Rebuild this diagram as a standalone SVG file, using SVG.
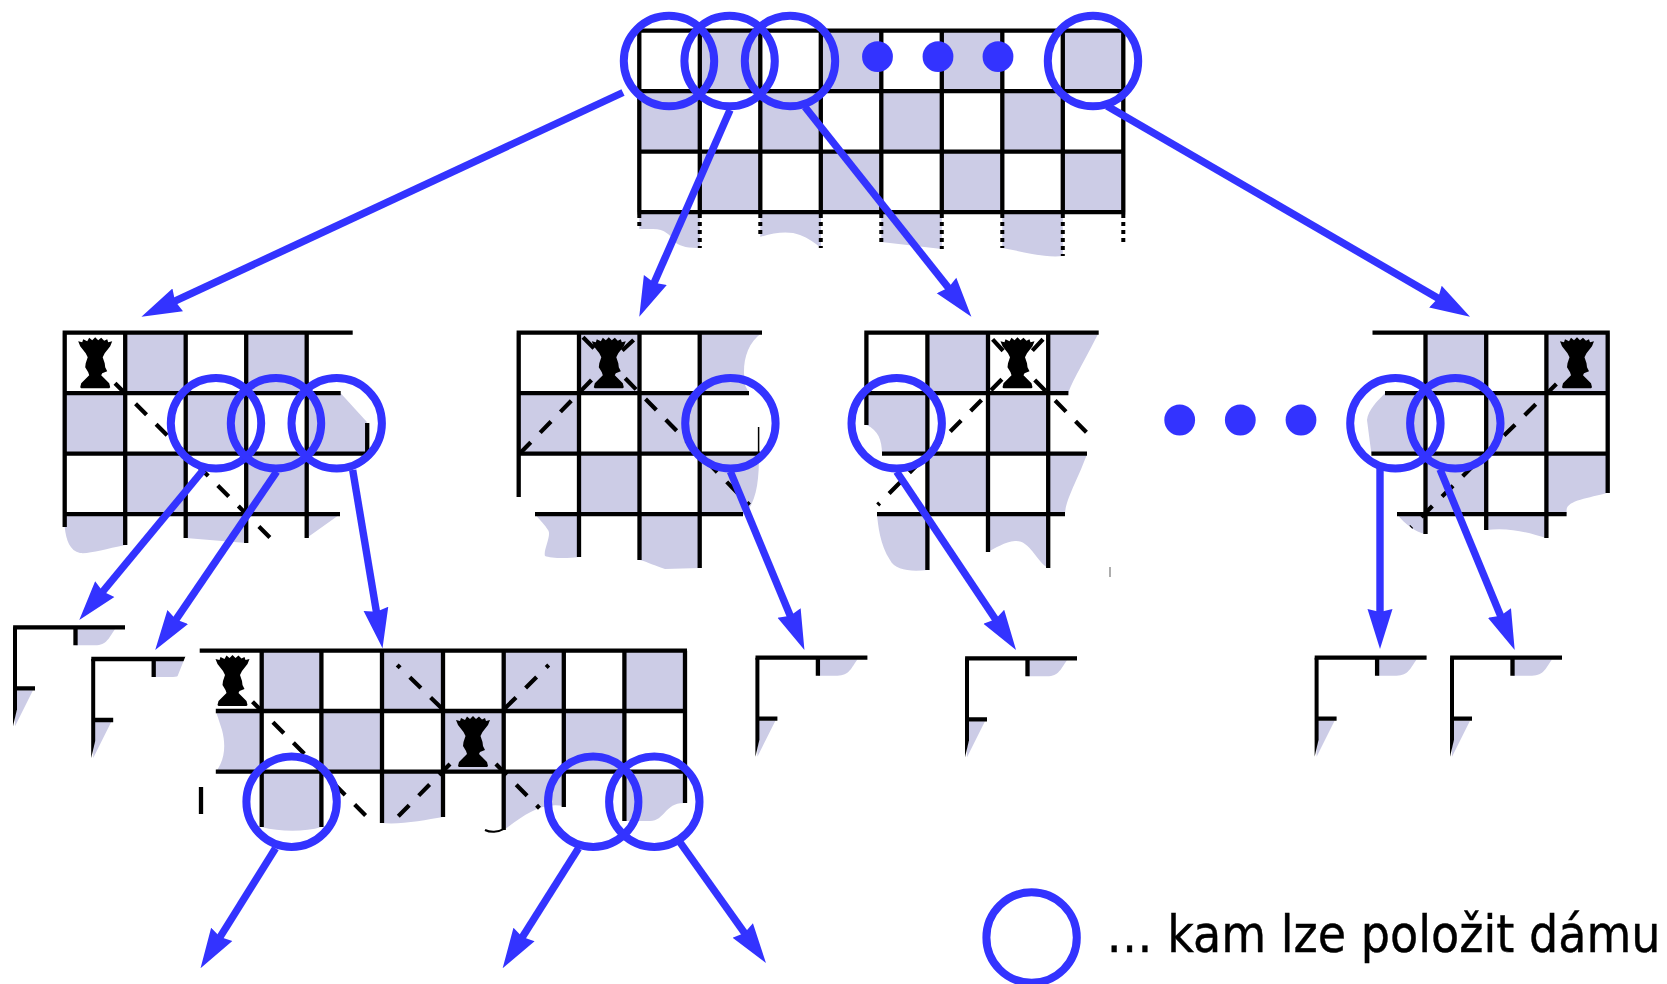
<svg xmlns="http://www.w3.org/2000/svg" width="1667" height="984" viewBox="0 0 1667 984">
<style>
.sh{fill:#ccccE6;stroke:none}
.gr{fill:none;stroke:#000;stroke-width:4.3}
.dot{fill:none;stroke:#000;stroke-width:4;stroke-dasharray:4 4}
.da{fill:none;stroke:#000;stroke-width:4.2;stroke-dasharray:15.5 13.5}
.ring{fill:none;stroke:#3333ff;stroke-width:8}
.bd{fill:#3333ff}
.ar{fill:none;stroke:#3333ff;stroke-width:7.4;marker-end:url(#head)}
.lb{font-family:"DejaVu Sans Condensed","DejaVu Sans",sans-serif;font-stretch:condensed;font-size:52px;fill:#000;stroke:#000;stroke-width:.4}
</style>
<defs>
<marker id="head" markerUnits="userSpaceOnUse" markerWidth="44" markerHeight="30" refX="18" refY="15" orient="auto"><path d="M40 15L0 2.5L3 15L0 27.5Z" fill="#3333ff"/></marker>
<path id="q" d="M-17 4L-13 5L-12 2L-8 4L-6 .5L-3 3L0 0L3 3L6 .5L9 3.5L12 2L13 5L17 4L15 9L9.5 16L7.5 20L9.5 26L10 30L12 34L7 36L6 38L9 41L14 46L15 50L14 51L-14 51L-15 50L-14 46L-9 41L-6 38L-7 35L-10 30L-9.5 26L-7.5 20L-9.5 16L-15 9Z" fill="#000"/>
<g id="stub">
<path class="sh" d="M60.5 1.9H100C94 10 92 18 80 18H60.500ZM0 63H18L0 99Z"/>
<path class="gr" d="M-1.9 0H110M60.5 0V18M0 61H20"/>
<path d="M-2 0H2V82L-2 99Z" fill="#000"/>
</g>
<clipPath id="cl2"><path d="M80 640H192L176 680V770H80Z"/></clipPath>
</defs>
<rect width="1667" height="984" fill="#fff"/>
<g id="board-root">
<path class="sh" d="M699.8 30.7h60.5v60.5h-60.5zM820.8 30.7h60.5v60.5h-60.5zM941.8 30.7h60.5v60.5h-60.5zM1062.8 30.7h60.5v60.5h-60.5zM639.3 91.2h60.5v60.5h-60.5zM760.3 91.2h60.5v60.5h-60.5zM881.3 91.2h60.5v60.5h-60.5zM1002.3 91.2h60.5v60.5h-60.5zM699.8 151.7h60.5v60.5h-60.5zM820.8 151.7h60.5v60.5h-60.5zM941.8 151.7h60.5v60.5h-60.5zM1062.8 151.7h60.5v60.5h-60.5zM639.3 212.2V229H653C665 229 670 235 675 242C680 247 690 248 699.8 248V212.2ZM760.3 212.2V237C775 232 790 231 800 235C808 238 815 243 821 248V212.2ZM881.3 212.2V242L941.8 249V212.2ZM1002.3 212.2V248C1025 252 1045 258 1062.8 256V212.2Z"/>
<path class="gr" d="M637.2 30.7H1125.4M637.2 91.2H1125.4M637.2 151.7H1125.4M637.2 212.2H1125.4M639.3 30.7V212.2M699.8 30.7V212.2M760.3 30.7V212.2M820.8 30.7V212.2M881.3 30.7V212.2M941.8 30.7V212.2M1002.3 30.7V212.2M1062.8 30.7V212.2M1123.3 30.7V212.2"/>
<path class="dot" d="M639.3 214V230M699.8 214V248M760.3 214V237M820.8 214V248M881.3 214V242M941.8 214V249M1002.3 214V248M1062.8 214V256M1123.3 214V242"/>
<circle class="bd" cx="877.5" cy="56.7" r="15.4"/><circle class="bd" cx="938" cy="56.7" r="15.4"/><circle class="bd" cx="998" cy="56.7" r="15.4"/>
<circle class="ring" cx="669" cy="61" r="45.2"/><circle class="ring" cx="729.6" cy="61" r="45.2"/><circle class="ring" cx="790" cy="61" r="45.2"/><circle class="ring" cx="1093" cy="61" r="45.2"/>
</g>
<g id="board-a">
<path class="sh" d="M125.2 332.7h60.5v60.5h-60.5zM246.2 332.7h60.5v60.5h-60.5zM64.7 393.2h60.5v60.5h-60.5zM185.7 393.2h60.5v60.5h-60.5zM306.7 393.2H340.7L366.7 421.7V453.7H306.7ZM125.2 453.7h60.5v60.5h-60.5zM246.2 453.7h60.5v60.5h-60.5zM64.7 514.2H125.2V545C105 549 90 554 80 553C70 551 66 540 64.7 527ZM185.7 514.2H246.2V543L185.7 538ZM306.7 514.2H340L306.7 538Z"/>
<path class="gr" d="M62.6 332.7H352.7M62.6 393.2H340.7M62.6 453.7H366.7M62.6 514.2H340M64.7 332.7V527M125.2 332.7V545M185.7 332.7V538M246.2 332.7V543M306.7 332.7V538M367.2 423V453.7"/>
<path class="da" d="M115 383.3L271.7 539.3"/>
<use href="#q" x="95.2" y="337.3"/>
<circle class="ring" cx="216" cy="423.3" r="45.2"/><circle class="ring" cx="276" cy="423.3" r="45.2"/><circle class="ring" cx="336.7" cy="423.3" r="45.2"/>
</g>
<g id="board-b">
<path class="sh" d="M579 332.7h60.5v60.5H579zM699.7 332.7H762C745 345 742 365 745 385L749 393.2H699.7ZM518.7 393.2H579v60.5h-60.3zM639.5 393.2h60.2v60.5h-60.2zM579 453.7h60.5v60.5H579zM699.7 453.7H759C759 480 757 500 745 514.2H699.7ZM535 514.2H579V557C565 559 550 558 545 556C543 550 552 535 548 530C545 525 540 520 535 514.2ZM639.5 514.2H699.7V568L665 569C655 566 648 562 639.5 560Z"/>
<path class="gr" d="M516.6 332.7H762M516.6 393.2H749M516.6 453.7H760M535 514.2H743M518.7 332.7V497M579 332.7V557M639.5 332.7V560M699.7 332.7V568"/>
<path d="M758.6 427V454" stroke="#000" stroke-width="1.5" fill="none"/>
<path class="da" d="M591.5 380L520 453.3M625.2 378.3L749.4 505M583 337.3L595.7 350M633.6 340L621 351.7"/>
<use href="#q" x="608.8" y="337.3"/>
<circle class="ring" cx="730.4" cy="423.3" r="45.2"/>
</g>
<g id="board-c">
<path class="sh" d="M927.4 332.7H988v60.5h-60.6zM1048.2 332.7H1098.7C1085 360 1070 385 1068.4 393.2H1048.2ZM866.4 393.2H927.4V453.7H882C882 440 878 430 866.4 425ZM988 393.2h60.2v60.5H988zM927.4 453.7H988v60.5h-60.6zM1048.2 453.7H1087C1080 475 1065 500 1065 514.2H1048.2ZM877 514.2H927.4V570C910 572 895 570 890 560C880 545 878 525 877 514.2ZM988 514.2H1048.2V568C1035 560 1030 540 1015 541C1005 542 995 548 988 552Z"/>
<path class="gr" d="M864.3 332.7H1098.7M864.3 393.2H1068.4M882 453.7H1087M877 514.2H1065M866.4 332.7V425M927.4 332.7V570M988 332.7V552M1048.2 332.7V568"/>
<path d="M1110 567V577" stroke="#777" stroke-width="1.2" fill="none"/>
<path class="da" d="M1001.9 379.3L877.7 505M1034.7 380L1088.2 434M992.6 339.3L1004 351.7M1043 339.3L1031.3 351.7"/>
<use href="#q" x="1017.5" y="337.3"/>
<circle class="ring" cx="896.7" cy="423.3" r="45.2"/>
</g>
<g id="board-d">
<path class="sh" d="M1425.5 332.7h60.7v60.5h-60.7zM1546.4 332.7h61.3v60.5h-61.3zM1385 393.2H1425.5V453.7H1371.4L1367 420C1368 410 1378 400 1385 393.2ZM1486.2 393.2h60.2v60.5h-60.2zM1425.5 453.7h60.7v60.5h-60.7zM1546.4 453.7H1606.7V493C1590 498 1567 500 1566.6 510V514.2H1546.4ZM1397 514.2H1425.5V534C1415 532 1405 524 1397 514.2ZM1486.2 514.2H1546.4V538C1530 533 1510 527 1486.2 530Z"/>
<path class="gr" d="M1372.5 332.7H1609.8M1385 393.2H1609.8M1371.4 453.7H1608M1397 514.2H1566.6M1425.5 332.7V534M1486.2 332.7V530M1546.4 332.7V538M1607.7 332.7V493"/>
<path class="da" d="M1556.4 384L1410.8 527.3"/>
<use href="#q" x="1577" y="337.3"/>
<circle class="bd" cx="1179.7" cy="420" r="15.4"/><circle class="bd" cx="1240.3" cy="420" r="15.4"/><circle class="bd" cx="1301" cy="420" r="15.4"/>
<circle class="ring" cx="1395.4" cy="423.3" r="45.2"/><circle class="ring" cx="1455.3" cy="423.3" r="45.2"/>
</g>
<g id="board-e">
<path class="sh" d="M261.7 650.7h59.7V711h-59.7zM382 650.7h61V711h-61zM503.7 650.7h60.1V711h-60.1zM624.4 650.7H685V711h-60.6zM215.8 711H261.7V771.7H215.8C225 760 226 745 222 730ZM321.4 711H382V771.7H321.4ZM443 711H503.7V771.7H443ZM563.8 711H624.4V771.7H563.8ZM261.7 771.7H321.4V827C305 832 280 832 261.7 827ZM382 771.7H443V817C425 820 400 825 382 823ZM503.7 771.7H563.8V806C540 802 525 815 503.7 830ZM624.4 771.7H685V803C665 802 665 821 650 821H624.4Z"/>
<path class="gr" d="M199.7 650.7H687M215.8 711H687M215.8 771.7H685M261.7 650.7V827M321.4 650.7V827M382 650.7V823M443 650.7V817M503.7 650.7V830M563.8 650.7V807M624.4 650.7V821M685 650.7V803M201 787V814"/>
<path d="M485 830C490 832.500 498 832.500 503.700 829" fill="none" stroke="#000" stroke-width="2"/>
<path class="da" d="M252.5 701.7L367.3 817.3M441.7 708.3L397.2 665M505 708.3L548.7 665M450 764L397.2 817.3M495.9 764L539.5 808.3"/>
<use href="#q" x="232.5" y="655"/>
<use href="#q" x="473" y="716"/>
<circle class="ring" cx="291.6" cy="801.7" r="45.2"/><circle class="ring" cx="593.2" cy="801.7" r="45.2"/><circle class="ring" cx="654.3" cy="801.7" r="45.2"/>
</g>
<g id="stub-1"><use href="#stub" x="15" y="627.3"/></g>
<g id="stub-2" clip-path="url(#cl2)"><use href="#stub" x="93.2" y="659"/></g>
<g id="stub-3"><use href="#stub" x="757.4" y="657.7"/></g>
<g id="stub-4"><use href="#stub" x="967" y="658.3"/></g>
<g id="stub-5"><use href="#stub" x="1316.6" y="657.7"/></g>
<g id="stub-6"><use href="#stub" x="1452" y="657.7"/></g>
<g id="connectors">
<path class="ar" d="M623 92.5L161.4 307.4"/>
<path class="ar" d="M730 110L648.1 296.5"/>
<path class="ar" d="M805 107L957.7 299.5"/>
<path class="ar" d="M1107 106L1451 305.7"/>
<path class="ar" d="M203.3 470L93.3 603"/>
<path class="ar" d="M276.7 471.7L167.6 631.8"/>
<path class="ar" d="M352.7 470L378.9 626.6"/>
<path class="ar" d="M730.4 471.7L796 629.7"/>
<path class="ar" d="M896.7 471.7L1003.8 631.7"/>
<path class="ar" d="M1380 468V627"/>
<path class="ar" d="M1440 469.3L1506.3 629.7"/>
<path class="ar" d="M275.5 848.3L212.2 949.6"/>
<path class="ar" d="M578.5 848.3L514.4 949.7"/>
<path class="ar" d="M679.5 841.7L753.2 945.1"/>
</g>
<g id="legend">
<circle class="ring" cx="1031.6" cy="937.5" r="45.2"/>
<text class="lb" x="1106.5" y="951.7" textLength="554" lengthAdjust="spacingAndGlyphs">… kam lze položit dámu</text>
</g>
</svg>
